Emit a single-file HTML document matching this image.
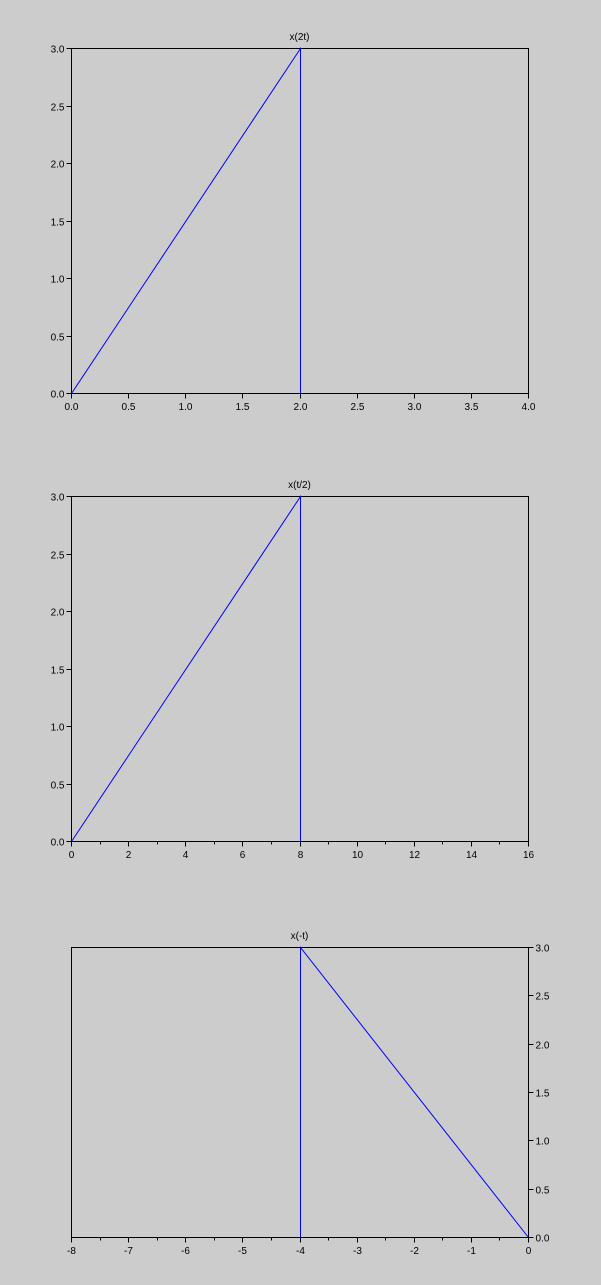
<!DOCTYPE html>
<html><head><meta charset="utf-8"><style>
body{margin:0;background:#cccccc;}
svg{display:block;font-family:"Liberation Sans",sans-serif;}
</style></head><body>
<svg id="chart" width="601" height="1285" viewBox="0 0 601 1285" xmlns="http://www.w3.org/2000/svg">
<rect width="601" height="1285" fill="#cccccc"/>
</svg>
<script>
// Plot 1 data: x(2t)
const p1X = [0, 2, 2];
const p1Y = [0, 3, 0];
const p1XTicks = [0, 0.5, 1, 1.5, 2, 2.5, 3, 3.5, 4];
const p1XLabels = ["0.0","0.5","1.0","1.5","2.0","2.5","3.0","3.5","4.0"];
// Plot 2 data: x(t/2)
const p2X = [0, 8, 8];
const p2Y = [0, 3, 0];
const p2XTicks = [0, 2, 4, 6, 8, 10, 12, 14, 16];
const p2XLabels = ["0","2","4","6","8","10","12","14","16"];
// Plot 3 data: x(-t)
const p3X = [-4, -4, 0];
const p3Y = [0, 3, 0];
const p3XTicks = [-8, -7, -6, -5, -4, -3, -2, -1, 0];
const p3XLabels = ["-8","-7","-6","-5","-4","-3","-2","-1","0"];
const yTicks = [0, 0.5, 1, 1.5, 2, 2.5, 3];
const yLabels = ["0.0","0.5","1.0","1.5","2.0","2.5","3.0"];

const NS = "http://www.w3.org/2000/svg";
const svg = document.getElementById("chart");
function el(tag, attrs, parent) {
  const e = document.createElementNS(NS, tag);
  for (const k in attrs) e.setAttribute(k, attrs[k]);
  parent.appendChild(e);
  return e;
}
const px = v => Math.round(v) + 0.5;
function plot(cfg) {
  const g = el("g", {}, svg);
  
  
  const sx = v => px(cfg.x0 + (v - cfg.xmin) / (cfg.xmax - cfg.xmin) * (cfg.x1 - cfg.x0));
  const sy = v => px(cfg.y1 - (v - cfg.ymin) / (cfg.ymax - cfg.ymin) * (cfg.y1 - cfg.y0));
  const box = el("rect", {x: cfg.x0 + 0.5, y: cfg.y0 + 0.5, width: cfg.x1 - cfg.x0, height: cfg.y1 - cfg.y0, fill: "none", stroke: "#000", "stroke-width": 1}, g);
  
  
  const t = el("text", {x: (cfg.x0 + cfg.x1) / 2, y: cfg.y0 - 8, "font-size": 10, "text-anchor": "middle", fill: "#000"}, g);
  t.textContent = cfg.title;
  
  
  const yb = cfg.y1 + 0.5;
  cfg.xt.forEach((v, i) => {
    const x = sx(v);
    el("line", {x1: x, x2: x, y1: yb, y2: yb + 5, stroke: "#000"}, g);
    const lb = el("text", {x: x, y: cfg.y1 + 17, "font-size": 10, "text-anchor": "middle", fill: "#000"}, g);
    lb.textContent = cfg.xl[i];
    
    
    if (cfg.minor && i < cfg.xt.length - 1) {
      const m = sx((v + cfg.xt[i + 1]) / 2);
      el("line", {x1: m, x2: m, y1: yb, y2: yb + 3, stroke: "#000"}, g);
    }
  });
  const ax = (cfg.right ? cfg.x1 : cfg.x0) + 0.5;
  const dir = cfg.right ? 1 : -1;
  yTicks.forEach((v, i) => {
    const y = sy(v);
    el("line", {x1: ax, x2: ax + dir * 5, y1: y, y2: y, stroke: "#000"}, g);
    const lb = el("text", {x: ax + dir * 7, y: y + 4, "font-size": 10, "text-anchor": cfg.right ? "start" : "end", fill: "#000"}, g);
    lb.textContent = yLabels[i];
    
    
  });
  const pts = cfg.xs.map((v, i) => sx(v) + "," + sy(cfg.ys[i])).join(" ");
  const line = el("polyline", {points: pts, fill: "none", stroke: "#0000ff", "stroke-width": 1}, g);
  
  
}
plot({name: "plot-x-2t", title: "x(2t)", x0: 71, x1: 528, y0: 48, y1: 393, xmin: 0, xmax: 4, ymin: 0, ymax: 3, xt: p1XTicks, xl: p1XLabels, xs: p1X, ys: p1Y, minor: false, right: false});
plot({name: "plot-x-t-half", title: "x(t/2)", x0: 71, x1: 528, y0: 496, y1: 841, xmin: 0, xmax: 16, ymin: 0, ymax: 3, xt: p2XTicks, xl: p2XLabels, xs: p2X, ys: p2Y, minor: true, right: false});
plot({name: "plot-x-neg-t", title: "x(-t)", x0: 71, x1: 528, y0: 947, y1: 1237, xmin: -8, xmax: 0, ymin: 0, ymax: 3, xt: p3XTicks, xl: p3XLabels, xs: p3X, ys: p3Y, minor: true, right: true});
</script>
</body></html>
